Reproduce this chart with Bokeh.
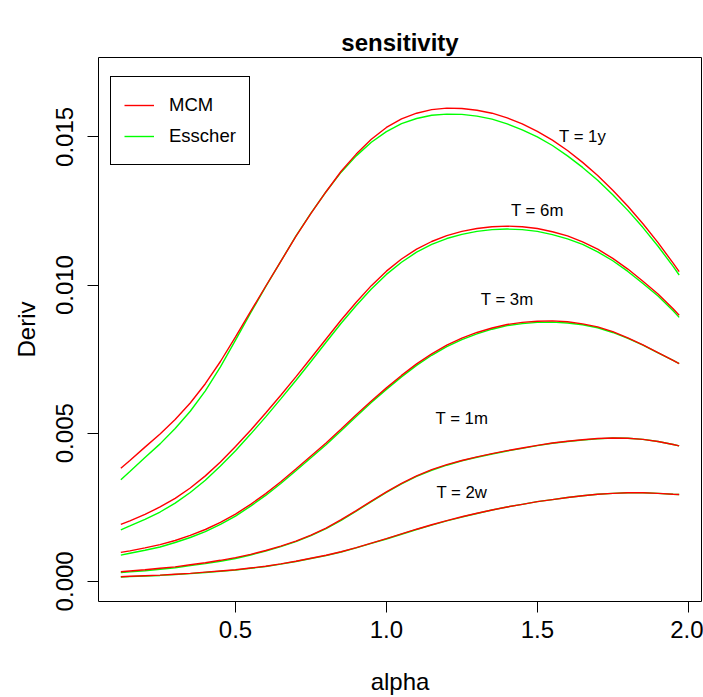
from bokeh.plotting import figure
from bokeh.models import Range1d, FixedTicker, PrintfTickFormatter, Legend, LegendItem, ColumnDataSource
from bokeh.core.properties import value
from bokeh.embed import file_html
from bokeh.resources import INLINE

alpha = [0.12, 0.15, 0.20, 0.25, 0.30, 0.35, 0.40, 0.45, 0.50, 0.55,
         0.60, 0.65, 0.70, 0.75, 0.80, 0.85, 0.90, 0.95, 1.00, 1.05,
         1.10, 1.15, 1.20, 1.25, 1.30, 1.35, 1.40, 1.45, 1.50, 1.55,
         1.60, 1.65, 1.70, 1.75, 1.80, 1.85, 1.90, 1.95, 1.97]

mcm_1y = [0.00382, 0.00408, 0.00453, 0.00497, 0.00546, 0.00602, 0.00667, 0.00742, 0.00825, 0.00911,
          0.00996, 0.01080, 0.01164, 0.01242, 0.01315, 0.01384, 0.01442, 0.01492, 0.01532, 0.01561,
          0.01580, 0.01592, 0.01597, 0.01596, 0.01590, 0.01580, 0.01564, 0.01544, 0.01519, 0.01489,
          0.01454, 0.01414, 0.01370, 0.01320, 0.01266, 0.01207, 0.01143, 0.01074, 0.01045]
esscher_1y = [0.00343, 0.00371, 0.00418, 0.00464, 0.00516, 0.00574, 0.00643, 0.00724, 0.00814, 0.00906,
              0.00995, 0.01080, 0.01165, 0.01243, 0.01315, 0.01381, 0.01436, 0.01482, 0.01518, 0.01545,
              0.01562, 0.01573, 0.01577, 0.01576, 0.01570, 0.01560, 0.01544, 0.01524, 0.01500, 0.01471,
              0.01436, 0.01397, 0.01354, 0.01305, 0.01252, 0.01194, 0.01131, 0.01063, 0.01034]

mcm_6m = [0.00192, 0.00204, 0.00226, 0.00251, 0.00280, 0.00315, 0.00356, 0.00403, 0.00455, 0.00510,
          0.00568, 0.00628, 0.00690, 0.00754, 0.00818, 0.00882, 0.00942, 0.00998, 0.01047, 0.01088,
          0.01121, 0.01147, 0.01167, 0.01181, 0.01191, 0.01197, 0.01199, 0.01197, 0.01191, 0.01180,
          0.01166, 0.01146, 0.01121, 0.01090, 0.01054, 0.01013, 0.00970, 0.00920, 0.00898]
esscher_6m = [0.00174, 0.00187, 0.00209, 0.00234, 0.00264, 0.00300, 0.00341, 0.00389, 0.00441, 0.00497,
              0.00555, 0.00616, 0.00678, 0.00742, 0.00807, 0.00871, 0.00931, 0.00987, 0.01036, 0.01077,
              0.01111, 0.01137, 0.01157, 0.01171, 0.01181, 0.01187, 0.01189, 0.01187, 0.01181, 0.01170,
              0.01156, 0.01137, 0.01112, 0.01082, 0.01046, 0.01005, 0.00963, 0.00913, 0.00891]

mcm_3m = [0.000976, 0.00103, 0.00113, 0.00124, 0.00138, 0.00155, 0.00175, 0.00199, 0.00227, 0.00260,
          0.00296, 0.00336, 0.00379, 0.00423, 0.00467, 0.00514, 0.00562, 0.00609, 0.00653, 0.00695,
          0.00734, 0.00768, 0.00797, 0.00821, 0.00840, 0.00855, 0.00867, 0.00874, 0.00878, 0.00879,
          0.00876, 0.00869, 0.00859, 0.00843, 0.00822, 0.00798, 0.00772, 0.00746, 0.00735]
esscher_3m = [0.000886, 0.00095, 0.00105, 0.00116, 0.00131, 0.00148, 0.00168, 0.00192, 0.00220, 0.00254,
              0.00290, 0.00330, 0.00373, 0.00417, 0.00461, 0.00508, 0.00556, 0.00604, 0.00648, 0.00690,
              0.00729, 0.00763, 0.00792, 0.00816, 0.00835, 0.00851, 0.00863, 0.00870, 0.00874, 0.00875,
              0.00872, 0.00866, 0.00856, 0.00840, 0.00820, 0.00797, 0.00771, 0.00746, 0.00735]

mcm_1m = [0.000324, 0.00035, 0.00039, 0.00044, 0.00049, 0.00056, 0.00063, 0.00071, 0.00080, 0.00091,
          0.00104, 0.00119, 0.00136, 0.00156, 0.00180, 0.00208, 0.00239, 0.00271, 0.00302, 0.00331,
          0.00356, 0.00377, 0.00394, 0.00408, 0.00420, 0.00431, 0.00441, 0.00450, 0.00459, 0.00467,
          0.00473, 0.00478, 0.00482, 0.00484, 0.00483, 0.00479, 0.00472, 0.00462, 0.00457]
esscher_1m = [0.000294, 0.00032, 0.00036, 0.00041, 0.00046, 0.00053, 0.00060, 0.00068, 0.00077, 0.00089,
              0.00102, 0.00117, 0.00134, 0.00154, 0.00178, 0.00206, 0.00237, 0.00269, 0.00300, 0.00329,
              0.00354, 0.00375, 0.00392, 0.00407, 0.00419, 0.00430, 0.00440, 0.00449, 0.00458, 0.00466,
              0.00472, 0.00477, 0.00481, 0.00484, 0.00483, 0.00479, 0.00472, 0.00462, 0.00457]

mcm_2w = [0.000155, 0.00017, 0.00019, 0.00021, 0.00024, 0.00027, 0.00031, 0.00035, 0.00039, 0.00045,
          0.00051, 0.00059, 0.00068, 0.00078, 0.00088, 0.00100, 0.00114, 0.00129, 0.00144, 0.00160,
          0.00176, 0.00191, 0.00205, 0.00218, 0.00230, 0.00241, 0.00251, 0.00260, 0.00269, 0.00276,
          0.00283, 0.00289, 0.00294, 0.00297, 0.00299, 0.00299, 0.00297, 0.00294, 0.00293]
esscher_2w = [0.000145, 0.00016, 0.00018, 0.00020, 0.00023, 0.00026, 0.00030, 0.00034, 0.00038, 0.00044,
              0.00050, 0.00058, 0.00067, 0.00077, 0.00087, 0.00099, 0.00113, 0.00128, 0.00143, 0.00159,
              0.00175, 0.00190, 0.00204, 0.00217, 0.00229, 0.00241, 0.00251, 0.00260, 0.00269, 0.00276,
              0.00283, 0.00289, 0.00294, 0.00297, 0.00299, 0.00299, 0.00297, 0.00294, 0.00293]

label_x = [1.65, 1.5, 1.4, 1.25, 1.25]
label_y = [0.0150, 0.0125, 0.0095, 0.0055, 0.0030]
label_text = ["T = 1y", "T = 6m", "T = 3m", "T = 1m", "T = 2w"]

x_ticks = [0.5, 1.0, 1.5, 2.0]
y_ticks = [0.000, 0.005, 0.010, 0.015]

FONT = "Liberation Sans"

p = figure(output_backend="svg", toolbar_location=None,
           frame_width=603, frame_height=544,
           min_border_left=98, min_border_right=2, min_border_top=57, min_border_bottom=96,
           x_range=Range1d(0.046, 2.044), y_range=Range1d(-0.00068, 0.01768),
           title="sensitivity")
p.background_fill_color = "white"
p.border_fill_color = "white"
p.outline_line_color = "black"
p.outline_line_width = 1
p.grid.visible = False

p.title.align = "center"
p.title.text_font = FONT
p.title.text_font_size = "24px"
p.title.text_font_style = "bold"
p.title.text_color = "black"
p.title.standoff = 4

for ax in (p.xaxis[0], p.yaxis[0]):
    ax.axis_line_color = None
    ax.major_tick_out = 11
    ax.major_tick_in = 0
    ax.minor_tick_line_color = None
    ax.major_tick_line_color = "black"
    ax.major_label_text_font = FONT
    ax.major_label_text_font_size = "24px"
    ax.major_label_text_color = "black"
    ax.axis_label_text_font = FONT
    ax.axis_label_text_font_size = "24px"
    ax.axis_label_text_font_style = "normal"
    ax.axis_label_text_color = "black"

p.xaxis.ticker = FixedTicker(ticks=x_ticks)
p.xaxis.formatter = PrintfTickFormatter(format="%.1f")
p.xaxis.axis_label = "alpha"
p.xaxis.major_label_standoff = 8
p.xaxis.axis_label_standoff = 27

p.yaxis.ticker = FixedTicker(ticks=y_ticks)
p.yaxis.formatter = PrintfTickFormatter(format="%.3f")
p.yaxis.axis_label = "Deriv"
p.yaxis.major_label_orientation = "vertical"
p.yaxis.major_label_standoff = 14
p.yaxis.axis_label_standoff = 14

series = [(esscher_1y, mcm_1y), (esscher_6m, mcm_6m), (esscher_3m, mcm_3m),
          (esscher_1m, mcm_1m), (esscher_2w, mcm_2w)]
red_r = None
green_r = None
for ess, mcm in series:
    g = p.line(alpha, ess, line_color="#00FF00", line_width=1.4)
    r = p.line(alpha, mcm, line_color="#FF0000", line_width=1.4)
    if red_r is None:
        red_r, green_r = r, g

src = ColumnDataSource(dict(x=label_x, y=label_y, t=label_text))
p.text(x="x", y="y", text="t", source=src, text_align="center", text_baseline="middle",
       text_font=value(FONT), text_font_size="16.8px", text_color="black")

legend = Legend(items=[LegendItem(label="MCM", renderers=[red_r]),
                       LegendItem(label="Esscher", renderers=[green_r])],
                location=(12, 436), padding=13, spacing=1, margin=0,
                glyph_width=30, glyph_height=30, label_height=30, label_standoff=15,
                label_text_font=FONT, label_text_font_size="18.5px",
                label_text_baseline="middle", label_text_color="black",
                border_line_color="black", border_line_width=1, border_line_alpha=1.0,
                background_fill_alpha=1.0)
p.add_layout(legend)

open("out.html", "w").write(file_html(p, INLINE))
